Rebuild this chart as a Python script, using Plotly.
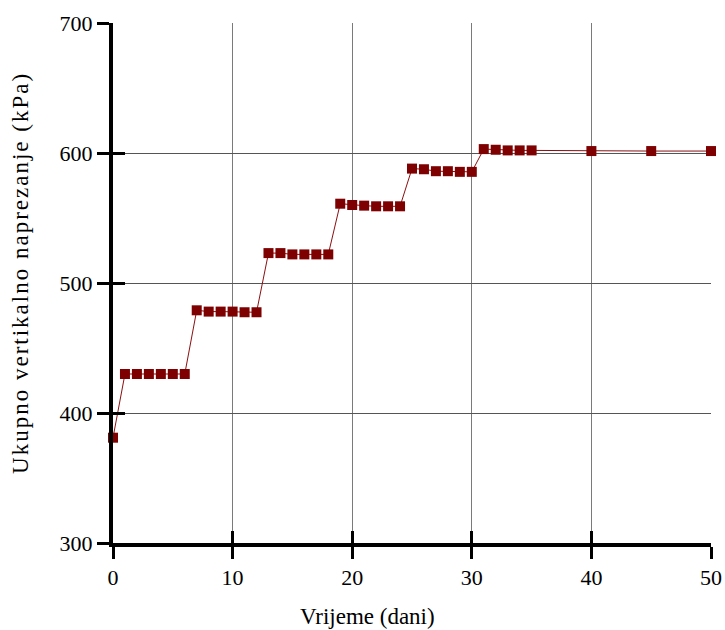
import plotly.graph_objects as go

# Time in days and total vertical stress in kPa
days = [0, 1, 2, 3, 4, 5, 6,
        7, 8, 9, 10, 11, 12,
        13, 14, 15, 16, 17, 18,
        19, 20, 21, 22, 23, 24,
        25, 26, 27, 28, 29, 30,
        31, 32, 33, 34, 35,
        40, 45, 50]
stress_kpa = [381, 430, 430, 430, 430, 430, 430,
              479, 478, 478, 478, 477.5, 477.5,
              523, 523, 522, 522, 522, 522,
              561, 560, 559.5, 559, 559, 559,
              588, 587.5, 586, 586, 585.5, 585.5,
              603, 602.5, 602, 602, 602,
              601.5, 601.5, 601.5]

x_ticks = [0, 10, 20, 30, 40, 50]
y_ticks = [300, 400, 500, 600, 700]

x_title = "Vrijeme (dani)"
y_title = "Ukupno vertikalno naprezanje (kPa)"

FONT = "Liberation Serif"
MARK = "#7f0000"

fig = go.Figure()
fig.add_trace(go.Scatter(
    x=days, y=stress_kpa, mode="lines+markers",
    line=dict(color="#8b1010", width=1),
    marker=dict(symbol="square", size=10, color=MARK,
                line=dict(color=MARK, width=0)),
    cliponaxis=False, showlegend=False, hoverinfo="x+y",
))
# empty trace that places the companion (inner tick) axes
fig.add_trace(go.Scatter(x=[], y=[], xaxis="x2", yaxis="y2",
                         showlegend=False, hoverinfo="skip"))

tick_style = dict(tickcolor="black", tickwidth=3, ticklen=12,
                  zeroline=False, automargin=False)

fig.update_layout(
    width=725, height=630,
    margin=dict(l=113, r=14, t=23, b=87, autoexpand=False),
    paper_bgcolor="white", plot_bgcolor="white",
    font=dict(family=FONT, size=22, color="black"),
    xaxis=dict(range=[0, 50], tickvals=x_ticks, ticks="outside",
               showgrid=True, gridcolor="#7a7a7a", gridwidth=1,
               showline=True, linecolor="black", linewidth=4,
               tickfont=dict(family=FONT, size=22, color="black"),
               **tick_style),
    yaxis=dict(range=[300, 700], tickvals=y_ticks, ticks="outside",
               showgrid=True, gridcolor="#555555", gridwidth=1,
               showline=True, linecolor="black", linewidth=4,
               tickfont=dict(family=FONT, size=22, color="black"),
               **tick_style),
    # companion axes that add the inner half of each tick mark
    xaxis2=dict(overlaying="x", matches="x", anchor="y2", side="bottom",
                range=[0, 50], tickvals=x_ticks, ticks="inside",
                showticklabels=False, showgrid=False, showline=False,
                **tick_style),
    yaxis2=dict(overlaying="y", matches="y", anchor="x2", side="left",
                range=[300, 700], tickvals=y_ticks, ticks="inside",
                showticklabels=False, showgrid=False, showline=False,
                **tick_style),
    annotations=[
        dict(text=x_title, xref="paper", yref="paper", x=0.425, y=-0.142,
             xanchor="center", yanchor="middle", showarrow=False,
             font=dict(family=FONT, size=23, color="black")),
        dict(text='<span style="letter-spacing:2px">' + y_title + "</span>",
             xref="paper", yref="paper", x=-0.155, y=0.52,
             xanchor="center", yanchor="middle", showarrow=False,
             textangle=-90,
             font=dict(family=FONT, size=23, color="black")),
    ],
)

fig.write_html("out.html")
